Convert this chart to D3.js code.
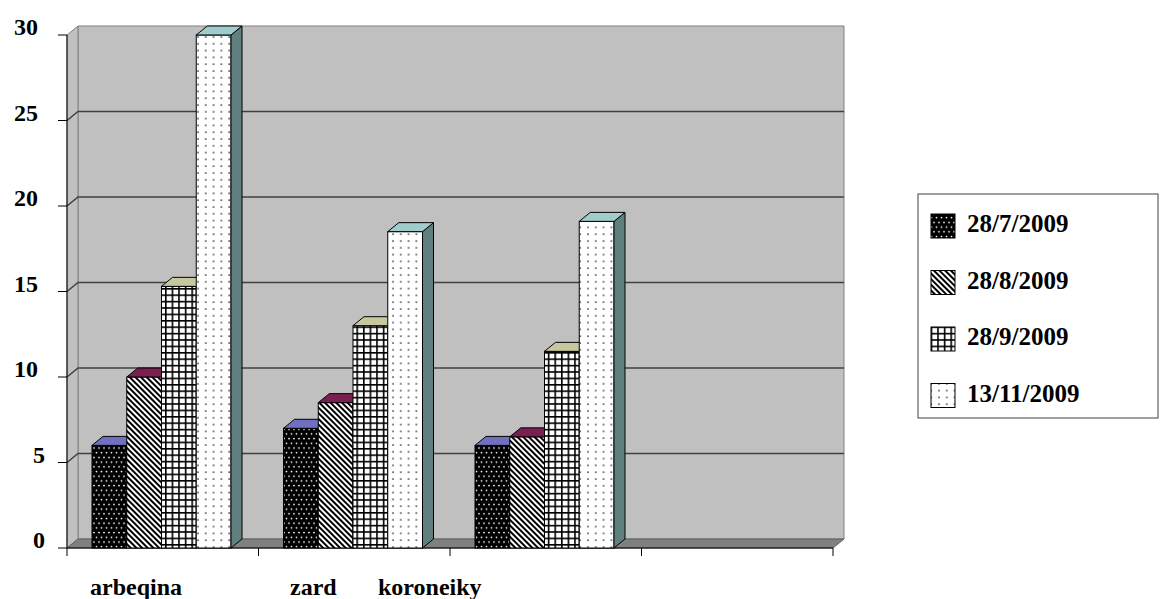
<!DOCTYPE html>
<html>
<head>
<meta charset="utf-8">
<script src="https://cdn.jsdelivr.net/npm/d3@7"></script>
<style>
  body { margin: 0; background: #fff; }
  #chart text { font-family: "Liberation Serif", "Times New Roman", Tinos, serif; font-weight: bold; }
</style>
</head>
<body>
<svg id="chart" width="1160" height="599"></svg>
<script>
// data
const categories = ["arbeqina", "zard", "koroneiky", ""];
const seriesNames = ["28/7/2009", "28/8/2009", "28/9/2009", "13/11/2009"];
const s1 = [6, 7, 6];
const s2 = [10, 8.5, 6.5];
const s3 = [15.3, 13, 11.5];
const s4 = [30, 18.5, 19.1];
const yTicks = [0, 5, 10, 15, 20, 25, 30];

const seriesValues = [s1, s2, s3, s4];
const topColors = ["#7070c0", "#7a2050", "#c8c8a0", "#a0cccc"];
const sideColors = ["#3a3a6a", "#4a1030", "#8a8a60", "#608080"];
const patterns = ["pDots", "pDiag", "pGrid", "pSparse"];

const dx = 11, dy = -9;           // depth of the 3d box
const labelX = [90, 290, 378];    // category label left edges as in the original

const svg = d3.select("#chart");

const x = d3.scaleBand().domain(categories.map((c, i) => i)).range([67, 833]);
const y = d3.scaleLinear().domain([0, 30]).range([548, 35]);
const xs = d3.scaleBand().domain(d3.range(seriesNames.length))
  .range([25, x.bandwidth() - 27.5]);

// patterns
const defs = svg.append("defs");
let p = defs.append("pattern").attr("id", "pDots").attr("patternUnits", "userSpaceOnUse")
  .attr("width", 5).attr("height", 9.4);
p.append("rect").attr("width", 5).attr("height", 9.4).attr("fill", "#000");
p.append("circle").attr("cx", 1.5).attr("cy", 1.5).attr("r", 0.9).attr("fill", "#fff");
p.append("circle").attr("cx", 4).attr("cy", 6.2).attr("r", 0.9).attr("fill", "#fff");

p = defs.append("pattern").attr("id", "pDiag").attr("patternUnits", "userSpaceOnUse")
  .attr("width", 4).attr("height", 4).attr("patternTransform", "rotate(-45)");
p.append("rect").attr("width", 4).attr("height", 4).attr("fill", "#fff");
p.append("rect").attr("width", 2).attr("height", 4).attr("fill", "#000");

p = defs.append("pattern").attr("id", "pGrid").attr("patternUnits", "userSpaceOnUse")
  .attr("width", 6.6).attr("height", 6.4);
p.append("rect").attr("width", 6.6).attr("height", 6.4).attr("fill", "#fff");
p.append("rect").attr("width", 1.6).attr("height", 6.4).attr("fill", "#000");
p.append("rect").attr("width", 6.6).attr("height", 1.6).attr("fill", "#000");

p = defs.append("pattern").attr("id", "pSparse").attr("patternUnits", "userSpaceOnUse")
  .attr("width", 7.8).attr("height", 6.8);
p.append("rect").attr("width", 7.8).attr("height", 6.8).attr("fill", "#fff");
p.append("circle").attr("cx", 3).attr("cy", 3).attr("r", 0.9).attr("fill", "#333");

const x0 = x.range()[0], x1 = x.range()[1];
const yb = y(0), yt = y(30);

// walls and floor
const box = svg.append("g");
box.append("polygon")
  .attr("points", [[x0 + dx, yt + dy], [x1 + dx, yt + dy], [x1 + dx, yb + dy], [x0 + dx, yb + dy]].join(" "))
  .attr("fill", "#c0c0c0").attr("stroke", "#808080");
box.append("polygon")
  .attr("points", [[x0, yt], [x0 + dx, yt + dy], [x0 + dx, yb + dy], [x0, yb]].join(" "))
  .attr("fill", "#c0c0c0").attr("stroke", "#808080");
box.append("polygon")
  .attr("points", [[x0, yb], [x0 + dx, yb + dy], [x1 + dx, yb + dy], [x1, yb]].join(" "))
  .attr("fill", "#808080").attr("stroke", "#606060");

// gridlines on back and side wall
yTicks.filter(t => t > 0 && t < 30).forEach(t => {
  box.append("path")
    .attr("d", `M${x0},${y(t)}L${x0 + dx},${y(t) + dy}L${x1 + dx},${y(t) + dy}`)
    .attr("fill", "none").attr("stroke", "#404040").attr("stroke-width", 1.5);
});

// y axis
svg.append("line").attr("x1", x0).attr("x2", x0).attr("y1", yt).attr("y2", yb)
  .attr("stroke", "#000");
yTicks.forEach(t => {
  svg.append("line").attr("x1", x0 - 9).attr("x2", x0).attr("y1", y(t)).attr("y2", y(t))
    .attr("stroke", "#000");
  svg.append("text").attr("x", t >= 10 ? 38 : 45).attr("y", y(t)).attr("text-anchor", "end")
    .style("font-size", "24px")
    .text(t);
});

// x axis
svg.append("line").attr("x1", x0).attr("x2", x1).attr("y1", yb).attr("y2", yb)
  .attr("stroke", "#000");
categories.map((c, i) => x(i)).concat([x1]).forEach(v => {
  svg.append("line").attr("x1", v).attr("x2", v).attr("y1", yb).attr("y2", yb + 8)
    .attr("stroke", "#000");
});
categories.forEach((c, i) => {
  if (!c) return;
  svg.append("text").attr("x", labelX[i]).attr("y", 595)
    .style("font-size", "24px")
    .text(c);
});

// bars
const bars = svg.append("g");
categories.forEach((c, ci) => {
  seriesValues.forEach((vals, si) => {
    const v = vals[ci];
    if (v === undefined) return;
    const bx = x(ci) + xs(si), bw = xs.bandwidth(), top = y(v);
    const g = bars.append("g");
    g.append("rect").attr("x", bx).attr("y", top).attr("width", bw).attr("height", yb - top)
      .attr("fill", `url(#${patterns[si]})`).attr("stroke", "#000");
    g.append("polygon")
      .attr("points", [[bx + bw, top], [bx + bw + dx, top + dy], [bx + bw + dx, yb + dy], [bx + bw, yb]].join(" "))
      .attr("fill", sideColors[si]).attr("stroke", "#000");
    g.append("polygon")
      .attr("points", [[bx, top], [bx + dx, top + dy], [bx + bw + dx, top + dy], [bx + bw, top]].join(" "))
      .attr("fill", topColors[si]).attr("stroke", "#000");
  });
});

// legend
const lg = svg.append("g");
lg.append("rect").attr("x", 918).attr("y", 194).attr("width", 240).attr("height", 224)
  .attr("fill", "#fff").attr("stroke", "#404040");
seriesNames.forEach((n, i) => {
  const ly = 214 + i * 56.5;
  lg.append("rect").attr("x", 931).attr("y", ly).attr("width", 24).attr("height", 24)
    .attr("fill", `url(#${patterns[i]})`).attr("stroke", "#000");
  lg.append("text").attr("x", 967).attr("y", ly + 18)
    .style("font-size", "25px")
    .text(n);
});
</script>
</body>
</html>
